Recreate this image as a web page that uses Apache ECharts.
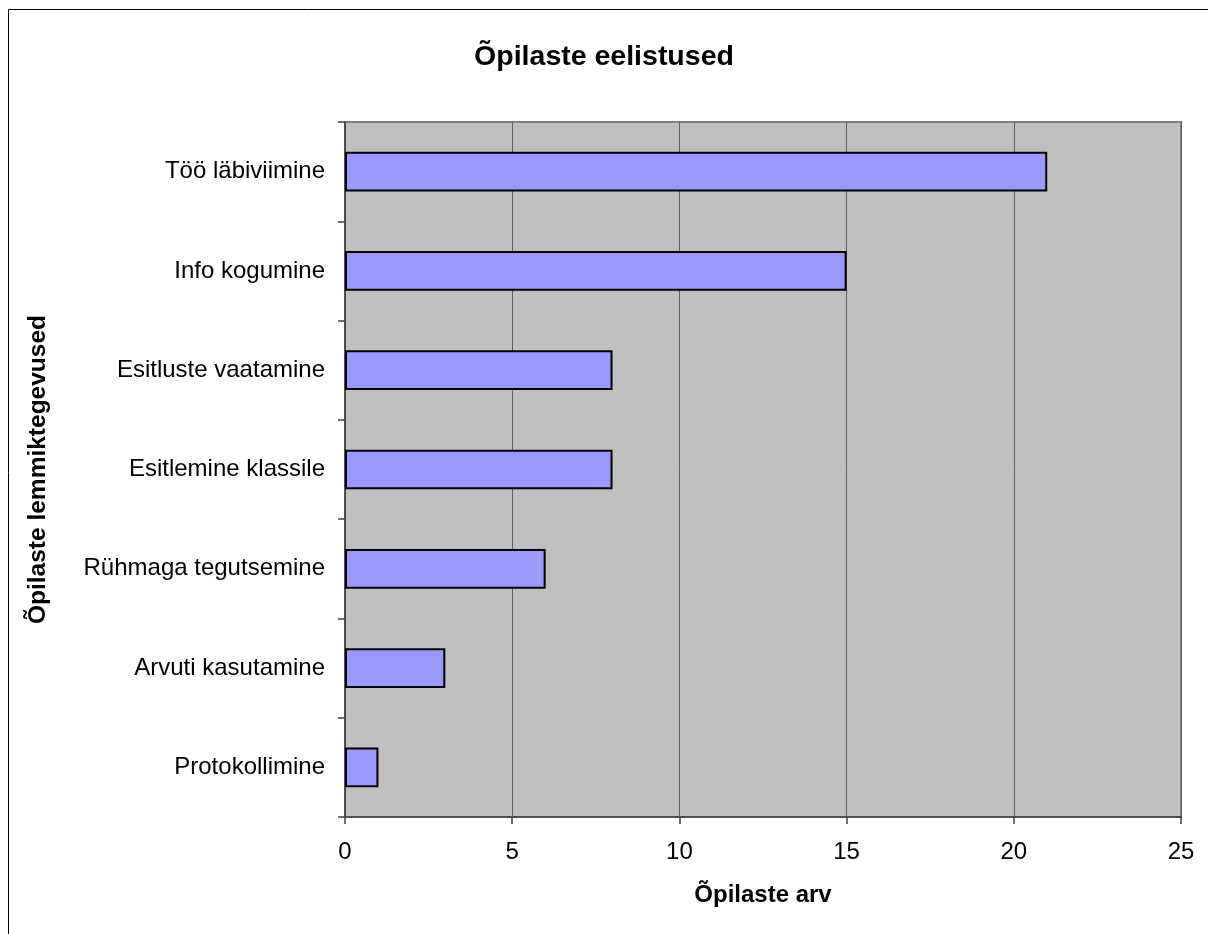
<!DOCTYPE html>
<html>
<head>
<meta charset="utf-8">
<script src="https://cdn.jsdelivr.net/npm/echarts@6/dist/echarts.min.js"></script>
<style>
html,body{margin:0;padding:0;background:#fff;}
#chart{width:1208px;height:934px;}
</style>
</head>
<body>
<div id="chart"></div>
<script>
// Favourite activities and the number of students choosing each
const categories = [
  'Töö läbiviimine',
  'Info kogumine',
  'Esitluste vaatamine',
  'Esitlemine klassile',
  'Rühmaga tegutsemine',
  'Arvuti kasutamine',
  'Protokollimine'
];
const studentCounts = [21, 15, 8, 8, 6, 3, 1];
const xTicks = { min: 0, max: 25, interval: 5 };

const font = '"Liberation Sans", Arial, sans-serif';
const chart = echarts.init(document.getElementById('chart'), null, { renderer: 'canvas' });

chart.setOption({
  backgroundColor: '#ffffff',
  animation: false,
  title: {
    text: 'Õpilaste eelistused',
    left: 'center',
    top: 38,
    textStyle: { fontFamily: font, fontSize: 28.5, fontWeight: 'bold', color: '#000' }
  },
  graphic: [
    {
      // outer chart frame
      type: 'rect',
      shape: { x: 8.5, y: 9.5, width: 1300, height: 1000 },
      style: { fill: 'none', stroke: '#000', lineWidth: 1 },
      silent: true,
      z: -1
    }
  ],
  grid: {
    left: 345, top: 122, width: 836, height: 695,
    show: true,
    backgroundColor: '#c0c0c0',
    borderColor: '#808080',
    borderWidth: 2
  },
  xAxis: {
    type: 'value',
    min: xTicks.min, max: xTicks.max, interval: xTicks.interval,
    name: 'Õpilaste arv',
    nameLocation: 'middle',
    nameGap: 66,
    nameTextStyle: { fontFamily: font, fontSize: 24, fontWeight: 'bold', color: '#000' },
    axisLine: { show: true, lineStyle: { color: '#404040', width: 1.5 } },
    axisTick: { show: true, length: 7, lineStyle: { color: '#404040', width: 1.5 } },
    axisLabel: { fontFamily: font, fontSize: 24, color: '#000', margin: 23 },
    splitLine: { show: true, lineStyle: { color: '#606060', width: 1 } }
  },
  yAxis: {
    type: 'category',
    data: categories,
    inverse: true,
    name: 'Õpilaste lemmiktegevused',
    nameLocation: 'middle',
    nameGap: 294,
    nameRotate: 90,
    nameTextStyle: { fontFamily: font, fontSize: 24.5, fontWeight: 'bold', color: '#000' },
    axisLine: { show: true, lineStyle: { color: '#404040', width: 1.5 } },
    axisTick: { show: true, length: 7, lineStyle: { color: '#404040', width: 1.5 } },
    axisLabel: { fontFamily: font, fontSize: 24, color: '#000', margin: 20 },
    splitLine: { show: false }
  },
  series: [
    {
      type: 'bar',
      data: studentCounts,
      barWidth: '40%',
      itemStyle: { color: '#9999ff', borderColor: '#000', borderWidth: 2 }
    }
  ]
});
</script>
</body>
</html>
